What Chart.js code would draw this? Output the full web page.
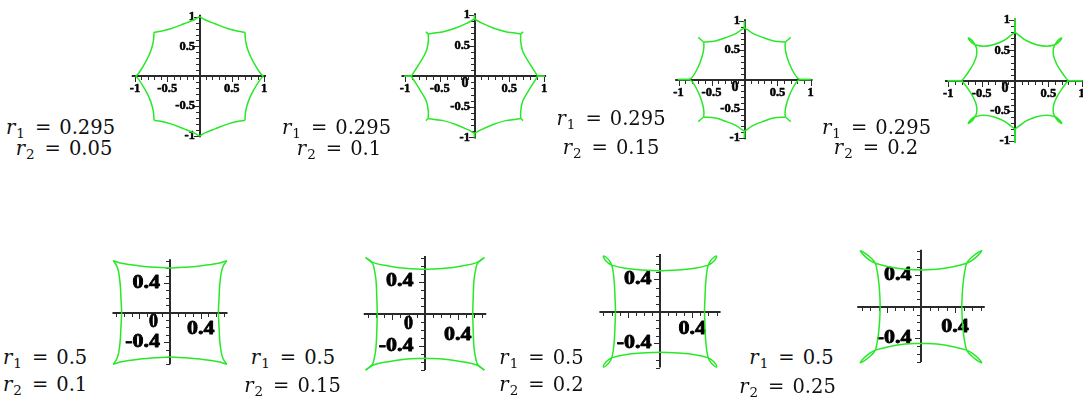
<!DOCTYPE html>
<html>
<head>
<meta charset="utf-8">
<script src="https://cdn.jsdelivr.net/npm/chart.js@4.4.1/dist/chart.umd.min.js"></script>
<style>
  html, body { margin: 0; padding: 0; background: #ffffff; overflow: hidden; }
  #stage { position: relative; width: 1083px; height: 400px; }
  #stage canvas { position: absolute; }
  .param {
    position: absolute; white-space: nowrap; color: #111;
    font-family: "DejaVu Serif", serif; font-size: 19.5px; line-height: 20px;
    transform: translate(-50%, -50%);
  }
  .param.left { transform: translate(0, -50%); }
  .param i { font-style: italic; }
  .param sub { font-size: 13.5px; position: relative; top: 4px; vertical-align: baseline; line-height: 0; margin-left: 1px; }
  .param .eq { display: inline-block; margin: 0 8px 0 10px; }
</style>
</head>
<body>
<div id="stage"></div>
<script>
// ---- parameter values shown under each panel ----
const r1Values = ['0.295', '0.295', '0.295', '0.295', '0.5', '0.5', '0.5', '0.5'];
const r2Values = ['0.05', '0.1', '0.15', '0.2', '0.1', '0.15', '0.2', '0.25'];

// ---- axis tick labels ----
const topTicks = [-1, -0.5, 0.5, 1];
const topTickText = ['-1', '-0.5', '0.5', '1'];
const bottomYTicks = [-0.4, 0.4];
const bottomYTickText = ['-0.4', '0.4'];
const bottomXTicks = [0.4];
const bottomXTickText = ['0.4'];

// ---- curve pieces in the first quadrant, as [x, y] pairs ----
// each piece is drawn smooth; the other quadrants are its mirror images
const curve1 = [
  [[0.99, 0], [0.94, 0.055], [0.83, 0.25], [0.757, 0.42], [0.716, 0.586], [0.705, 0.737]],
  [[0.705, 0.737], [0.60, 0.754], [0.447, 0.797], [0.24, 0.88], [0.085, 0.948], [0, 1.0]]
];
const curve2 = [
  [[0.91, 0], [1.01, 0]],
  [[0.91, 0], [0.87, 0.07], [0.774, 0.243], [0.694, 0.407], [0.665, 0.57], [0.665, 0.69]],
  [[0.665, 0.69], [0.70, 0.725]],
  [[0.665, 0.69], [0.55, 0.71], [0.463, 0.722], [0.27, 0.788], [0.104, 0.87], [0, 0.935]],
  [[0, 0.935], [0, 1.0]]
];
const curve3 = [
  [[0.84, 0], [1.01, 0]],
  [[0.84, 0], [0.80, 0.03], [0.74, 0.128], [0.67, 0.30], [0.625, 0.47], [0.615, 0.58], [0.62, 0.64]],
  [[0.62, 0.64], [0.70, 0.72]],
  [[0.62, 0.64], [0.44, 0.66], [0.30, 0.71], [0.133, 0.785], [0.04, 0.855], [0, 0.88]],
  [[0, 0.88], [0, 1.0]]
];
const curve4 = [
  [[0.80, 0], [1.01, 0]],
  [[0.80, 0], [0.775, 0.03], [0.70, 0.14], [0.625, 0.276], [0.577, 0.413], [0.575, 0.53], [0.60, 0.595],
   [0.626, 0.642], [0.666, 0.686], [0.70, 0.706], [0.684, 0.670], [0.644, 0.626], [0.60, 0.595],
   [0.475, 0.57], [0.325, 0.595], [0.175, 0.66], [0.06, 0.75], [0, 0.80]],
  [[0, 0.80], [0, 1.02]]
];
const curve5 = [
  [[0.63, 0], [0.64, 0.21], [0.65, 0.39], [0.67, 0.55], [0.695, 0.63], [0.74, 0.70]],
  [[0.74, 0.70], [0.63, 0.665], [0.39, 0.63], [0.17, 0.61], [0, 0.60]]
];
const curve6 = [
  [[0.584, 0], [0.59, 0.21], [0.60, 0.42], [0.62, 0.55], [0.645, 0.63], [0.726, 0.70]],
  [[0.726, 0.70], [0.633, 0.636], [0.45, 0.595], [0.245, 0.566], [0, 0.553]]
];
const curve7 = [
  [[0.55, 0], [0.557, 0.185], [0.565, 0.35], [0.58, 0.50], [0.598, 0.58],
   [0.623, 0.630], [0.664, 0.675], [0.70, 0.694], [0.686, 0.655], [0.645, 0.610], [0.598, 0.58],
   [0.433, 0.54], [0.227, 0.52], [0, 0.51]]
];
const curve8 = [
  [[0.48, 0], [0.486, 0.17], [0.50, 0.34], [0.518, 0.465], [0.538, 0.55],
   [0.581, 0.609], [0.651, 0.672], [0.714, 0.709], [0.671, 0.650], [0.601, 0.587], [0.538, 0.55],
   [0.38, 0.506], [0.185, 0.473], [0, 0.465]]
];
const curves = [curve1, curve2, curve3, curve4, curve5, curve6, curve7, curve8];

// ---- panel placement: origin pixel, pixels per unit, label offsets ----
const panels = [
  { ox: 199.5,  oy: 76.3,  sx: 64.5, sy: 59.7, row: 'top', zero: false },
  { ox: 474.5,  oy: 76.2,  sx: 69.5, sy: 61.2, row: 'top', zero: true },
  { ox: 744.5,  oy: 79.5,  sx: 66.0, sy: 58.5, row: 'top', zero: true },
  { ox: 1015.0, oy: 80.7,  sx: 66.7, sy: 60.5, row: 'top', zero: true },
  { ox: 170.0,  oy: 312.5, sx: 76.7, sy: 74.0, row: 'bottom', zero: true,  xDy: 16.5, yGap: 10,  zeroAt: [-16.5, 9] },
  { ox: 425.0,  oy: 313.8, sx: 81.7, sy: 80.4, row: 'bottom', zero: true,  xDy: 21,   yGap: 11.5, zeroAt: [-16.5, 10] },
  { ox: 660.0,  oy: 311.5, sx: 80.8, sy: 80.0, row: 'bottom', zero: false, xDy: 17,   yGap: 8.5 },
  { ox: 921.0,  oy: 306.7, sx: 85.0, sy: 79.0, row: 'bottom', zero: false, xDy: 20,   yGap: 9.5 }
];

// where the two parameter lines sit (centre points)
const paramPos = [
  { a: [60.5, 127.5], b: [64, 149] },
  { a: [336.5, 127.5], b: [339, 149] },
  { a: [611, 119], b: [611, 148] },
  { a: [876.5, 128], b: [876, 148] },
  { a: [3, 358], b: [3, 385], left: true },
  { a: [293, 358], b: [292.5, 386] },
  { a: [541.5, 358], b: [541.5, 385] },
  { a: [791.5, 358], b: [787.5, 387] }
];

const GREEN = 'rgb(40, 232, 40)';
const AXIS = '#2a2a2a';
const QUADS = [[1, 1], [-1, 1], [-1, -1], [1, -1]];

function makeAxes(p) {
  const top = p.row === 'top';
  const xSpan = top ? [-1.05, 1.03] : [-0.75, 0.75];
  const ySpan = top ? [-1.02, 1.03] : [-0.70, 0.72];
  const major = top ? 0.5 : 0.4;
  return {
    id: 'crossAxes',
    beforeDatasetsDraw(chart) {
      const { ctx } = chart;
      const xs = chart.scales.x, ys = chart.scales.y;
      const X = v => xs.getPixelForValue(v);
      const Y = v => ys.getPixelForValue(v);
      const x0 = Math.round(X(0)), y0 = Math.round(Y(0));
      ctx.save();
      ctx.strokeStyle = AXIS;
      ctx.lineWidth = 2;
      ctx.beginPath();
      ctx.moveTo(X(xSpan[0]), y0); ctx.lineTo(X(xSpan[1]), y0);
      ctx.moveTo(x0, Y(ySpan[0])); ctx.lineTo(x0, Y(ySpan[1]));
      ctx.stroke();

      // small ticks every 0.1, longer ones at the labelled values
      ctx.lineWidth = 1;
      ctx.beginPath();
      const isMajor = v => Math.abs(v / major - Math.round(v / major)) < 1e-6;
      for (let k = Math.ceil(xSpan[0] * 10); k <= Math.floor(xSpan[1] * 10); k++) {
        if (k === 0) continue;
        const v = k / 10, len = isMajor(v) ? 5 : 3, px = Math.round(X(v)) + 0.5;
        ctx.moveTo(px, y0); ctx.lineTo(px, y0 + 1 + len);
      }
      for (let k = Math.ceil(ySpan[0] * 10); k <= Math.floor(ySpan[1] * 10); k++) {
        if (k === 0) continue;
        const v = k / 10, len = isMajor(v) ? 5 : 3, py = Math.round(Y(v)) + 0.5;
        ctx.moveTo(x0 - 1 - len, py); ctx.lineTo(x0, py);
      }
      ctx.stroke();

      // heavy bold labels: filled and lightly outlined
      ctx.fillStyle = '#000';
      ctx.strokeStyle = '#000';
      ctx.lineWidth = top ? 0.5 : 0.8;
      ctx.lineJoin = 'round';
      const put = (t, px, py, align, stretch) => {
        ctx.save();
        ctx.translate(px, py);
        ctx.scale(stretch, 1);
        ctx.textAlign = align;
        ctx.textBaseline = 'middle';
        ctx.fillText(t, 0, 0);
        ctx.strokeText(t, 0, 0);
        ctx.restore();
      };
      if (top) {
        ctx.font = 'bold 12.5px "Liberation Serif", serif';
        topTicks.forEach((v, i) => put(topTickText[i], X(v), y0 + 13, 'center', 1));
        topTicks.forEach((v, i) => put(topTickText[i], x0 - 5, Y(v), 'right', 1));
        if (p.zero) {
          ctx.font = 'bold 14px "Liberation Serif", serif';
          put('0', x0 - 10, y0 + 7, 'center', 1);
        }
      } else {
        ctx.font = 'bold 18px "Liberation Serif", serif';
        bottomXTicks.forEach((v, i) => put(bottomXTickText[i], X(v), y0 + p.xDy, 'center', 1.22));
        bottomYTicks.forEach((v, i) => put(bottomYTickText[i], x0 - p.yGap, Y(v), 'right', 1.22));
        if (p.zero) put('0', x0 + p.zeroAt[0], y0 + p.zeroAt[1], 'center', 1);
      }
      ctx.restore();
    }
  };
}

const stage = document.getElementById('stage');

panels.forEach((p, idx) => {
  const xr = p.row === 'top' ? 1.25 : 1.0;
  const yr = p.row === 'top' ? 1.2 : 0.95;
  const left = Math.floor(p.ox - xr * p.sx), right = Math.ceil(p.ox + xr * p.sx);
  const topPx = Math.floor(p.oy - yr * p.sy), bottom = Math.ceil(p.oy + yr * p.sy);
  const cv = document.createElement('canvas');
  cv.width = right - left; cv.height = bottom - topPx;
  cv.style.left = left + 'px'; cv.style.top = topPx + 'px';
  cv.style.width = (right - left) + 'px'; cv.style.height = (bottom - topPx) + 'px';
  stage.appendChild(cv);

  const datasets = [];
  curves[idx].forEach(piece => {
    QUADS.forEach(([fx, fy]) => {
      datasets.push({
        data: piece.map(([x, y]) => ({ x: fx * x, y: fy * y })),
        showLine: true, borderColor: GREEN, borderWidth: 1.5,
        pointRadius: 0, tension: 0.4, fill: false
      });
    });
  });

  new Chart(cv, {
    type: 'scatter',
    data: { datasets },
    options: {
      responsive: false, animation: false, events: [],
      devicePixelRatio: 1,
      layout: { padding: 0 },
      plugins: { legend: { display: false }, tooltip: { enabled: false } },
      scales: {
        x: { type: 'linear', display: false, min: (left - p.ox) / p.sx, max: (right - p.ox) / p.sx },
        y: { type: 'linear', display: false, min: (p.oy - bottom) / p.sy, max: (p.oy - topPx) / p.sy }
      }
    },
    plugins: [makeAxes(p)]
  });
});

// parameter captions
paramPos.forEach((pos, i) => {
  [['1', r1Values[i], pos.a], ['2', r2Values[i], pos.b]].forEach(([sub, val, at]) => {
    const d = document.createElement('div');
    d.className = 'param' + (pos.left ? ' left' : '');
    d.style.left = at[0] + 'px';
    d.style.top = at[1] + 'px';
    d.innerHTML = '<i>r</i><sub>' + sub + '</sub><span class="eq">=</span>' + val;
    stage.appendChild(d);
  });
});
</script>
</body>
</html>
